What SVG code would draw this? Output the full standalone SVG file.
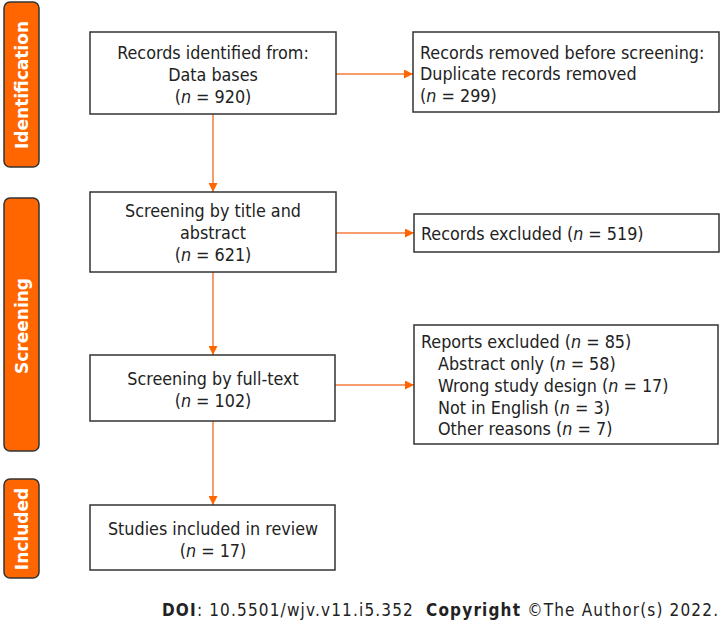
<svg xmlns="http://www.w3.org/2000/svg" width="725" height="630" viewBox="0 0 725 630">
<style>
.bar{fill:#FF6600;stroke:#333;stroke-width:1.5}
.lbl{fill:#fff;font-family:"DejaVu Sans",sans-serif;font-weight:bold;font-size:17px;text-anchor:middle}
.box{fill:#fff;stroke:#333;stroke-width:1.5}
.t{font-family:"DejaVu Sans Condensed","DejaVu Sans",sans-serif;font-size:17.8px;fill:#222}
.c{text-anchor:middle}
.con{stroke:#F47C3C;stroke-width:1.5;fill:none;marker-end:url(#ah)}
.foot{font-family:"DejaVu Sans Condensed","DejaVu Sans",sans-serif;font-size:17px;fill:#222}
</style>
<defs>
<marker id="ah" viewBox="0 0 10 10" refX="10" refY="5" markerWidth="9" markerHeight="9" markerUnits="userSpaceOnUse" orient="auto">
<path d="M0,0 L10,5 L0,10 z" fill="#FF6600"/>
</marker>
</defs>
<rect width="725" height="630" fill="#fff"/>
<g id="bar-identification">
<rect class="bar" x="4" y="2" width="35" height="165" rx="6"/>
<text class="lbl" transform="translate(28,85) rotate(-90)">Identification</text>
</g>
<g id="bar-screening">
<rect class="bar" x="4" y="198" width="35" height="253" rx="6"/>
<text class="lbl" transform="translate(28,326) rotate(-90)">Screening</text>
</g>
<g id="bar-included">
<rect class="bar" x="4" y="479" width="35" height="99" rx="6"/>
<text class="lbl" transform="translate(28,529) rotate(-90)">Included</text>
</g>
<g id="connectors">
<line class="con" x1="213" y1="114" x2="213" y2="192"/>
<line class="con" x1="213" y1="272" x2="213" y2="355"/>
<line class="con" x1="213" y1="421" x2="213" y2="505"/>
<line class="con" x1="336" y1="74" x2="413" y2="74"/>
<line class="con" x1="336" y1="233" x2="414" y2="233"/>
<line class="con" x1="335" y1="385" x2="414" y2="385"/>
</g>
<g id="n-identified">
<rect class="box" x="90" y="32" width="246" height="82"/>
<text class="t c" x="213" y="59">Records identified from:</text>
<text class="t c" x="213" y="81">Data bases</text>
<text class="t c" x="213" y="103">(<tspan font-style="italic">n</tspan> = 920)</text>
</g>
<g id="n-removed">
<rect class="box" x="413" y="32" width="306" height="80"/>
<text class="t" x="420" y="59">Records removed before screening:</text>
<text class="t" x="420" y="80">Duplicate records removed</text>
<text class="t" x="420" y="102">(<tspan font-style="italic">n</tspan> = 299)</text>
</g>
<g id="n-screening-title">
<rect class="box" x="90" y="192" width="246" height="80"/>
<text class="t c" x="213" y="217">Screening by title and</text>
<text class="t c" x="213" y="239">abstract</text>
<text class="t c" x="213" y="261">(<tspan font-style="italic">n</tspan> = 621)</text>
</g>
<g id="n-records-excluded">
<rect class="box" x="414" y="214" width="305" height="38"/>
<text class="t" x="421" y="240">Records excluded (<tspan font-style="italic">n</tspan> = 519)</text>
</g>
<g id="n-fulltext">
<rect class="box" x="90" y="355" width="245" height="66"/>
<text class="t c" x="213" y="385">Screening by full-text</text>
<text class="t c" x="213" y="407">(<tspan font-style="italic">n</tspan> = 102)</text>
</g>
<g id="n-reports-excluded">
<rect class="box" x="414" y="325" width="304" height="119"/>
<text class="t" x="421" y="348">Reports excluded (<tspan font-style="italic">n</tspan> = 85)</text>
<text class="t" x="438" y="370">Abstract only (<tspan font-style="italic">n</tspan> = 58)</text>
<text class="t" x="438" y="392">Wrong study design (<tspan font-style="italic">n</tspan> = 17)</text>
<text class="t" x="438" y="414">Not in English (<tspan font-style="italic">n</tspan> = 3)</text>
<text class="t" x="438" y="435">Other reasons (<tspan font-style="italic">n</tspan> = 7)</text>
</g>
<g id="n-included">
<rect class="box" x="90" y="505" width="245" height="65"/>
<text class="t c" x="213" y="535">Studies included in review</text>
<text class="t c" x="213" y="557">(<tspan font-style="italic">n</tspan> = 17)</text>
</g>
<text class="foot" x="162" y="616" textLength="556" lengthAdjust="spacing" xml:space="preserve"><tspan font-weight="bold">DOI</tspan>: 10.5501/wjv.v11.i5.352  <tspan font-weight="bold">Copyright</tspan> ©The Author(s) 2022.</text>
</svg>
